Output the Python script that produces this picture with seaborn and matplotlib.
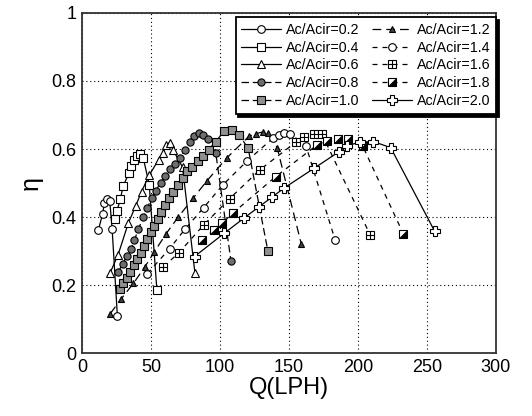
import numpy as np
import pandas as pd
import matplotlib
matplotlib.use("Agg")
import matplotlib.pyplot as plt
import seaborn as sns
from matplotlib.legend_handler import HandlerTuple

# ---- data ----
labels = ["Ac/Acir=0.2", "Ac/Acir=0.4", "Ac/Acir=0.6", "Ac/Acir=0.8", "Ac/Acir=1.0",
          "Ac/Acir=1.2", "Ac/Acir=1.4", "Ac/Acir=1.6", "Ac/Acir=1.8", "Ac/Acir=2.0"]

q02 = [11.9, 15.0, 16.2, 18.3, 20.2, 21.9, 25.7]
e02 = [0.362, 0.409, 0.440, 0.453, 0.446, 0.364, 0.109]

q04 = [23.8, 25.5, 27.9, 29.8, 34.0, 35.7, 38.1, 39.8, 42.4, 44.5, 48.8, 54.3]
e04 = [0.394, 0.419, 0.454, 0.490, 0.529, 0.549, 0.567, 0.580, 0.584, 0.573, 0.495, 0.187]

q06 = [20.3, 26.2, 33.6, 39.0, 43.2, 48.8, 55.6, 58.9, 61.2, 63.6, 66.2, 72.9, 81.9]
e06 = [0.235, 0.289, 0.382, 0.433, 0.475, 0.523, 0.569, 0.588, 0.613, 0.618, 0.596, 0.547, 0.236]

q08 = [26.5, 29.5, 32.5, 35.5, 38.0, 41.0, 44.5, 47.5, 50.5, 53.5, 57.0, 60.5, 64.0, 67.5,
       71.0, 74.5, 78.0, 81.0, 84.5, 88.0, 91.5, 97.0, 108.0]
e08 = [0.240, 0.262, 0.285, 0.305, 0.332, 0.365, 0.400, 0.428, 0.455, 0.478, 0.500, 0.520,
       0.540, 0.556, 0.575, 0.598, 0.622, 0.638, 0.646, 0.640, 0.628, 0.588, 0.272]

q10 = [27.5, 30.0, 32.5, 35.0, 37.5, 40.0, 42.5, 45.0, 47.5, 50.0, 52.5, 55.0, 57.5, 60.0,
       63.0, 66.0, 69.5, 73.0, 76.5, 80.0, 84.0, 88.0, 92.0, 97.0, 103.0, 108.6, 113.8, 120.5, 134.8]
e10 = [0.190, 0.205, 0.220, 0.240, 0.258, 0.276, 0.295, 0.315, 0.335, 0.355, 0.375, 0.395,
       0.415, 0.435, 0.455, 0.475, 0.495, 0.515, 0.535, 0.548, 0.565, 0.580, 0.598, 0.622,
       0.652, 0.655, 0.642, 0.602, 0.300]

q12 = [20.5, 28.5, 37.3, 45.5, 52.4, 61.0, 69.8, 80.5, 90.7, 104.8, 121.0, 126.0, 131.0, 135.0, 141.5, 159.0]
e12 = [0.116, 0.160, 0.205, 0.253, 0.297, 0.351, 0.400, 0.455, 0.507, 0.573, 0.637, 0.645,
       0.650, 0.648, 0.604, 0.321]

q14 = [47.5, 63.5, 75.0, 88.3, 102.0, 120.0, 138.5, 142.5, 146.5, 151.0, 162.5, 183.5]
e14 = [0.234, 0.307, 0.366, 0.428, 0.494, 0.566, 0.632, 0.642, 0.646, 0.645, 0.608, 0.333]

q16 = [59.0, 70.0, 88.3, 107.0, 129.0, 155.0, 161.0, 168.0, 174.0, 209.0]
e16 = [0.254, 0.294, 0.377, 0.454, 0.539, 0.620, 0.636, 0.644, 0.643, 0.347]

q18 = [87.3, 95.8, 101.6, 109.5, 140.5, 170.5, 177.6, 185.7, 193.2, 203.6, 232.9]
e18 = [0.332, 0.363, 0.382, 0.412, 0.519, 0.612, 0.624, 0.629, 0.628, 0.608, 0.351]

q20 = [81.6, 103.0, 117.8, 128.3, 137.9, 146.8, 168.5, 186.3, 192.1, 201.5, 211.2, 223.8, 255.7]
e20 = [0.284, 0.352, 0.398, 0.430, 0.459, 0.486, 0.544, 0.592, 0.610, 0.620, 0.622, 0.604, 0.358]

x_ticks = [0, 50, 100, 150, 200, 250, 300]
y_ticks = [0, 0.2, 0.4, 0.6, 0.8, 1]
y_ticklabels = ["0", "0.2", "0.4", "0.6", "0.8", "1"]

# ---- style ----
sns.set_theme(style="white")
plt.rcParams["font.family"] = ["Liberation Sans", "DejaVu Sans"]
plt.rcParams["text.color"] = "black"
plt.rcParams["axes.labelcolor"] = "black"
plt.rcParams["xtick.color"] = "black"
plt.rcParams["ytick.color"] = "black"

fig = plt.figure(figsize=(5.32, 4.16), dpi=100)
ax = fig.add_axes([0.154, 0.151, 0.778, 0.818])

series = [q02, q04, q06, q08, q10, q12, q14, q16, q18, q20]
values = [e02, e04, e06, e08, e10, e12, e14, e16, e18, e20]

tri_lr = [(-1, -1), (1, -1), (1, 1), (-1, -1)]

styles = [
    dict(marker="o", ls="-", mfc="white", ms=5.5),
    dict(marker="s", ls="-", mfc="white", ms=5.5),
    dict(marker="^", ls="-", mfc="white", ms=6),
    dict(marker="o", ls=(0, (6, 3)), mfc="#6e6e6e", ms=5.2),
    dict(marker="s", ls=(0, (6, 3)), mfc="#909090", ms=5.2),
    dict(marker="^", ls=(0, (7, 4)), mfc="#404040", ms=4.2),
    dict(marker="o", ls=(0, (4, 4)), mfc="white", ms=5.5),
    dict(marker="s", ls=(0, (4, 4)), mfc="white", ms=5.5),
    dict(marker="s", ls=(0, (4, 4)), mfc="white", ms=5.5),
    dict(marker="P", ls="-", mfc="white", ms=7),
]

handles = []
for i, (q, e, lab, st) in enumerate(zip(series, values, labels, styles)):
    df = pd.DataFrame({"Q": q, "eta": e})
    sns.lineplot(data=df, x="Q", y="eta", ax=ax, sort=False, color="black",
                 linestyle=st["ls"], linewidth=0.9, marker=st["marker"],
                 markersize=st["ms"], markerfacecolor=st["mfc"],
                 markeredgecolor="black", markeredgewidth=0.8, label=lab, legend=False)
    line = ax.lines[-1]
    h = line
    if i == 7:
        sns.lineplot(data=df, x="Q", y="eta", ax=ax, sort=False, color="black",
                     linestyle="none", marker="+", markersize=5.5,
                     markeredgecolor="black", markeredgewidth=0.8, legend=False)
        h = (line, ax.lines[-1])
    if i == 8:
        sns.lineplot(data=df, x="Q", y="eta", ax=ax, sort=False, color="black",
                     linestyle="none", marker=tri_lr, markersize=5.5,
                     markerfacecolor="black", markeredgecolor="black",
                     markeredgewidth=0.5, legend=False)
        h = (line, ax.lines[-1])
    handles.append(h)

ax.set_xlim(0, 300)
ax.set_ylim(0, 1)
ax.set_xticks(x_ticks)
ax.set_yticks(y_ticks)
ax.set_yticklabels(y_ticklabels)
ax.tick_params(direction="in", length=4, width=0.8, labelsize=13, colors="black",
               labelcolor="black", top=False, right=False, pad=4)
ax.grid(True, color="black", linestyle=(0, (1, 2.5)), linewidth=0.8)
for sp in ax.spines.values():
    sp.set_color("#333333")
    sp.set_linewidth(1.3)

ax.set_xlabel("Q(LPH)", fontsize=17, labelpad=1, color="black")
ax.set_ylabel("η", fontsize=18, labelpad=6, color="black")

leg = ax.legend(handles=handles, labels=labels, ncol=2, loc="upper right",
                bbox_to_anchor=(1.0, 0.988), fontsize=10.3, handlelength=2.8,
                handletextpad=0.3, columnspacing=0.9, labelspacing=0.27,
                numpoints=1, frameon=True, fancybox=False,
                shadow={"color": "black", "alpha": 1.0},
                borderpad=0.4, borderaxespad=0.0,
                handler_map={tuple: HandlerTuple(ndivide=1)})
leg.get_frame().set_edgecolor("black")
leg.get_frame().set_linewidth(1.3)
leg.get_frame().set_facecolor("white")
leg.get_frame().set_alpha(1)
for t in leg.get_texts():
    t.set_color("black")

fig.savefig("out.png", dpi=100)
